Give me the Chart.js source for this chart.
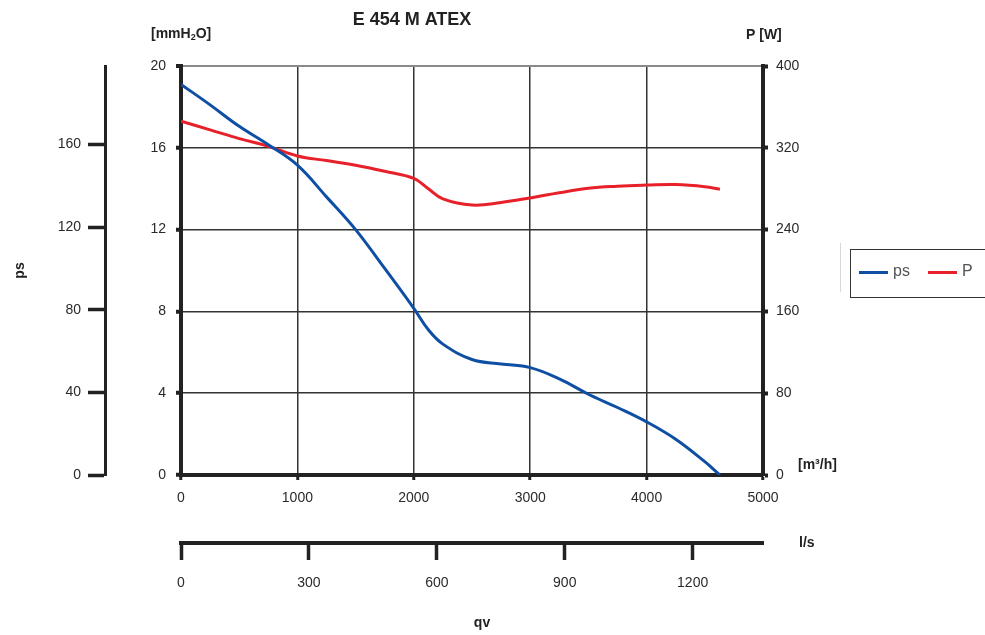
<!DOCTYPE html>
<html>
<head>
<meta charset="utf-8">
<title>E 454 M ATEX</title>
<script src="https://cdn.jsdelivr.net/npm/chart.js@4.4.1/dist/chart.umd.min.js"></script>
<style>
  html, body { margin: 0; padding: 0; background: #fff; }
  canvas { display: block; }
</style>
</head>
<body>
<canvas id="curva" width="985" height="635"></canvas>
<script>
// --- DATOS ---
const chartTitle = "E 454 M ATEX";
const flowM3h = [0, 250, 500, 750, 1000, 1250, 1500, 1750, 2000, 2125, 2250, 2500, 2750, 3000, 3250, 3500, 3750, 4000, 4250, 4500, 4630];
const psMmH2O = [19.1, 18.1, 17.05, 16.15, 15.15, 13.6, 12.0, 10.1, 8.15, 7.1, 6.4, 5.65, 5.43, 5.25, 4.7, 3.95, 3.3, 2.6, 1.75, 0.65, 0];
const powerW  = [346, 337.5, 329, 321.5, 312, 307.5, 303, 297, 290, 280, 270, 264, 266.5, 271, 276, 280.5, 282.5, 283.5, 284, 282, 279.5];

const ticksM3h = [0, 1000, 2000, 3000, 4000, 5000];
const ticksLs  = [0, 300, 600, 900, 1200];
const ticksMm  = [0, 4, 8, 12, 16, 20];
const ticksPa  = [0, 40, 80, 120, 160];
const ticksW   = [0, 80, 160, 240, 320, 400];

// --- ESTILO ---
const FONT = '"Liberation Sans", Arial, sans-serif';
const tickFont = { family: FONT, size: 14 };
const ink = '#222';
const setTicks = list => scale => { scale.ticks = list.map(v => ({ value: v })); };
const plain = v => String(v);   // sin separador de miles

// textos sueltos: titulo, unidades, leyenda
const textosPlugin = {
    id: 'textos',
    afterDraw(chart) {
        const ctx = chart.ctx;
        const area = chart.chartArea;
        const xLs = chart.scales.xLs;
        ctx.save();
        ctx.fillStyle = ink;
        ctx.textBaseline = 'middle';

        ctx.textAlign = 'center';
        ctx.font = `bold 18px ${FONT}`;
        ctx.fillText(chartTitle, 412, 20);

        ctx.font = `bold 14px ${FONT}`;
        ctx.fillText('qv', 482, 623);

        ctx.textAlign = 'left';
        // [mmH2O] con subindice
        let x = area.left - 30;
        const y = 34;
        ctx.fillText('[mmH', x, y);
        x += ctx.measureText('[mmH').width;
        ctx.font = `bold 9px ${FONT}`;
        ctx.fillText('2', x, y + 4);
        x += ctx.measureText('2').width;
        ctx.font = `bold 14px ${FONT}`;
        ctx.fillText('O]', x, y);

        ctx.fillText('P [W]', area.right - 17, 35);
        ctx.fillText('[m\u00B3/h]', area.right + 35, area.bottom - 10);
        ctx.fillText('l/s', area.right + 36, xLs.top);

        // leyenda
        const lx = area.right + 87, ly = 249;
        ctx.strokeStyle = '#d8d8d8';
        ctx.lineWidth = 1;
        ctx.beginPath();
        ctx.moveTo(lx - 9.5, 243);
        ctx.lineTo(lx - 9.5, 292);
        ctx.stroke();
        ctx.strokeStyle = '#333';
        ctx.strokeRect(lx + 0.5, ly + 0.5, 200, 48);

        ctx.font = `16px ${FONT}`;
        ctx.fillStyle = '#555';
        let ix = lx + 9;
        chart.data.datasets.forEach(ds => {
            ctx.strokeStyle = ds.borderColor;
            ctx.lineWidth = 3;
            ctx.beginPath();
            ctx.moveTo(ix, ly + 23.5);
            ctx.lineTo(ix + 29, ly + 23.5);
            ctx.stroke();
            ctx.fillText(ds.label, ix + 34, ly + 23);
            ix += 69;
        });
        ctx.restore();
    }
};

const ctx = document.getElementById('curva').getContext('2d');
new Chart(ctx, {
    type: 'line',
    data: {
        datasets: [
            {
                label: 'ps',
                data: flowM3h.map((q, i) => ({ x: q, y: psMmH2O[i] })),
                borderColor: '#0f4fa3',
                borderWidth: 3,
                pointRadius: 0,
                tension: 0.4,
                xAxisID: 'x',
                yAxisID: 'yMm'
            },
            {
                label: 'P',
                data: flowM3h.map((q, i) => ({ x: q, y: powerW[i] })),
                borderColor: '#e8202a',
                borderWidth: 3,
                pointRadius: 0,
                tension: 0.4,
                xAxisID: 'x',
                yAxisID: 'yW'
            }
        ]
    },
    options: {
        responsive: false,
        animation: false,
        devicePixelRatio: 1,
        layout: { padding: { top: 66, left: 0, right: 0, bottom: 0 } },
        plugins: {
            legend: { display: false },
            tooltip: { enabled: false },
            title: { display: false }
        },
        scales: {
            x: {
                type: 'linear', position: 'bottom', weight: 0,
                min: 0, max: 5000,
                afterBuildTicks: setTicks(ticksM3h),
                afterFit: s => { s.height = 68; },
                grid: { color: '#333', lineWidth: 1.5, tickLength: 5, tickColor: ink, tickWidth: 3 },
                border: { color: ink, width: 4 },
                ticks: { color: '#2a2a2a', font: tickFont, padding: 10, maxRotation: 0, callback: plain }
            },
            xLs: {
                type: 'linear', position: 'bottom', weight: 1,
                min: 0, max: 1365,
                afterBuildTicks: setTicks(ticksLs),
                afterFit: s => { s.height = 92; },
                grid: { drawOnChartArea: false, tickLength: 17, tickColor: ink, tickWidth: 3.5 },
                border: { color: ink, width: 4 },
                ticks: { color: '#2a2a2a', font: tickFont, padding: 15, maxRotation: 0, callback: plain }
            },
            yMm: {
                type: 'linear', position: 'left', weight: 0,
                min: 0, max: 20,
                afterBuildTicks: setTicks(ticksMm),
                afterFit: s => { s.width = 76; },
                grid: {
                    color: c => (c.tick && c.tick.value === 20 ? '#8a8a8a' : '#333'),
                    lineWidth: c => (c.tick && c.tick.value === 20 ? 2 : 1.5),
                    tickLength: 5, tickColor: ink, tickWidth: 4
                },
                border: { color: ink, width: 4 },
                ticks: { color: '#2a2a2a', font: tickFont, padding: 10, callback: plain }
            },
            yPa: {
                type: 'linear', position: 'left', weight: 1,
                min: 0, max: 198,
                afterBuildTicks: setTicks(ticksPa),
                afterFit: s => { s.width = 105; },
                grid: { drawOnChartArea: false, tickLength: 17, tickColor: ink, tickWidth: 3.5 },
                border: { color: ink, width: 3 },
                ticks: { color: '#2a2a2a', font: tickFont, padding: 7, callback: plain },
                title: {
                    display: true, text: 'ps', color: ink,
                    font: { family: FONT, size: 14, weight: 'bold' },
                    padding: { top: 12, bottom: 0 }
                }
            },
            yW: {
                type: 'linear', position: 'right',
                min: 0, max: 400,
                afterBuildTicks: setTicks(ticksW),
                afterFit: s => { s.width = 222; },
                grid: { drawOnChartArea: false, tickLength: 5, tickColor: ink, tickWidth: 4 },
                border: { color: ink, width: 4 },
                ticks: { color: '#2a2a2a', font: tickFont, padding: 8, callback: plain }
            }
        }
    },
    plugins: [textosPlugin]
});
</script>
</body>
</html>
